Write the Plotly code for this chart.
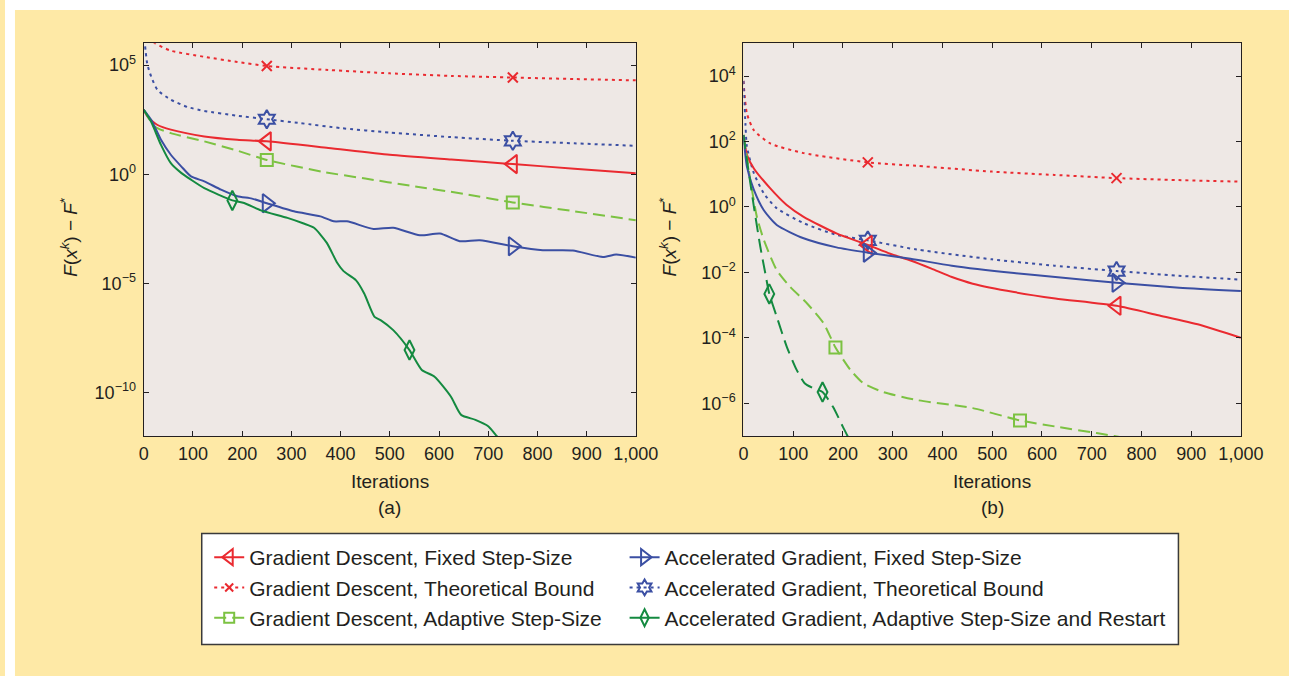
import plotly.graph_objects as go

# ---------------- panel (a) ----------------
a_gd_fixed_k = [0, 8, 28, 55, 123, 190, 250, 375, 500, 625, 750, 875, 1000]
a_gd_fixed_v = [8.9e2, 4.2e2, 1.8e2, 1.1e2, 5.4e1, 3.8e1, 3.2e1, 1.6e1, 7.8, 4.7, 2.9, 1.8, 1.12]

a_gd_bound_k = [5, 21, 55, 123, 190, 250, 375, 500, 625, 750, 875, 1000]
a_gd_bound_v = [4.0e6, 1.1e6, 4.6e5, 2.4e5, 1.4e5, 9.1e4, 6.0e4, 4.2e4, 3.2e4, 2.7e4, 2.3e4, 2.0e4]

a_gd_adapt_k = [0, 22, 55, 123, 190, 250, 366, 450, 541, 650, 750, 875, 1000]
a_gd_adapt_v = [8.9e2, 1.55e2, 7.6e1, 3.2e1, 1.2e1, 4.5, 1.26, 6.3e-1, 3.0e-1, 1.26e-1, 5.1e-2, 2.0e-2, 7.8e-3]

a_agd_fixed_k = [0, 15, 35, 55, 76, 96, 123, 157, 190, 220, 250, 305, 359, 386, 413, 467,
                 507, 561, 602, 642, 683, 750, 811, 872, 933, 960, 1000]
a_agd_fixed_v = [8.9e2, 3.1e2, 3.8e1, 7.8, 2.3, 7.9e-1, 4.7e-1, 1.95e-1, 9.8e-2, 7.6e-2, 4.7e-2,
                 2.0e-2, 1.17e-2, 6.9e-3, 6.9e-3, 3.1e-3, 3.5e-3, 1.58e-3, 1.9e-3, 8.5e-4,
                 9.3e-4, 5.0e-4, 3.3e-4, 3.2e-4, 1.6e-4, 2.1e-4, 1.5e-4]

a_agd_bound_k = [0, 7, 15, 28, 55, 89, 123, 190, 250, 318, 400, 500, 625, 750, 875, 1000]
a_agd_bound_v = [3.2e6, 1.2e5, 3.0e4, 7.2e3, 2.6e3, 1.2e3, 7.9e2, 4.8e2, 3.3e2, 2.2e2, 1.3e2,
                 8.1e1, 5.0e1, 3.4e1, 2.6e1, 2.0e1]

a_agd_restart_k = [0, 15, 35, 55, 76, 96, 123, 180, 204, 238, 292, 325, 346, 372, 393, 406,
                   431, 448, 469, 482, 507, 540, 565, 591, 624, 645, 674, 700, 716, 735]
a_agd_restart_v = [8.9e2, 2.5e2, 2.2e1, 3.2, 1.15, 5.6e-1, 2.3e-1, 6.3e-2, 4.8e-2, 2.2e-2,
                   1.0e-2, 5.5e-3, 3.5e-3, 7.1e-4, 8.7e-5, 3.6e-5, 1.4e-5, 3.4e-6, 2.9e-7,
                   2.0e-7, 7.1e-8, 8.7e-9, 1.07e-9, 5.2e-10, 6.5e-11, 9.3e-12, 5.5e-12,
                   2.8e-12, 1.07e-12, 4.0e-13]

# ---------------- panel (b) ----------------
b_gd_fixed_k = [0, 7, 21, 54, 87, 121, 187, 250, 295, 336, 378, 419, 461, 544, 627, 750, 834, 917, 1000]
b_gd_fixed_v = [1.58e2, 3.9e1, 1.5e1, 3.7, 1.15, 5.0e-1, 1.55e-1, 6.9e-2, 3.7e-2, 2.3e-2, 1.3e-2,
                7.2e-3, 4.5e-3, 2.5e-3, 1.6e-3, 9.5e-4, 4.9e-4, 2.5e-4, 1.0e-4]

b_gd_bound_k = [0, 7, 21, 54, 121, 250, 348, 500, 625, 750, 875, 1000]
b_gd_bound_v = [7.1e3, 7.2e2, 2.2e2, 8.7e1, 4.4e1, 2.3e1, 1.8e1, 1.2e1, 9.5, 7.6, 6.6, 5.9]

b_gd_adapt_k = [0, 14, 27, 41, 67, 94, 128, 161, 185, 215, 241, 281, 348, 461, 556, 627, 710, 745, 800]
b_gd_adapt_v = [1.58e2, 6.6, 5.0e-1, 9.8e-2, 1.17e-2, 3.6e-3, 1.12e-3, 2.8e-4, 5.1e-5, 1.05e-5,
                4.1e-6, 2.2e-6, 1.26e-6, 7.1e-7, 3.0e-7, 1.95e-7, 1.23e-7, 1.0e-7, 7.1e-8]

b_agd_fixed_k = [0, 7, 21, 41, 67, 121, 187, 250, 336, 419, 544, 627, 750, 876, 1000]
b_agd_fixed_v = [1.58e2, 1.7e1, 3.3, 7.9e-1, 2.8e-1, 1.1e-1, 5.8e-2, 4.0e-2, 2.6e-2, 1.6e-2,
                 9.5e-3, 7.2e-3, 4.8e-3, 3.4e-3, 2.7e-3]

b_agd_bound_k = [0, 4, 7, 21, 41, 67, 121, 187, 250, 348, 500, 625, 750, 875, 1000]
b_agd_bound_v = [7.1e3, 3.5e2, 6.9e1, 1.07e1, 2.6, 9.1e-1, 3.2e-1, 1.4e-1, 9.5e-2, 5.0e-2,
                 2.5e-2, 1.6e-2, 1.1e-2, 7.9e-3, 6.0e-3]

b_agd_restart_k = [0, 11, 21, 34, 44, 52, 67, 87, 107, 123, 140, 159, 180, 200, 210, 220]
b_agd_restart_v = [1.58e2, 1.07e1, 1.02, 6.0e-2, 9.3e-3, 2.2e-3, 4.4e-4, 5.4e-5, 1.05e-5,
                   4.1e-6, 2.9e-6, 2.2e-6, 7.8e-7, 1.9e-7, 9.5e-8, 4.0e-8]

# iterations at which each curve carries a marker
marks_a = {"gd_fixed": [250, 750], "gd_bound": [250, 750], "gd_adapt": [250, 750],
           "agd_fixed": [250, 750], "agd_bound": [250, 750], "agd_restart": [180, 540]}
marks_b = {"gd_fixed": [250, 750], "gd_bound": [250, 750], "gd_adapt": [185, 556],
           "agd_fixed": [250, 750], "agd_bound": [250, 750], "agd_restart": [52, 159]}

x_ticks = [0, 100, 200, 300, 400, 500, 600, 700, 800, 900, 1000]
x_ticktext = ["0", "100", "200", "300", "400", "500", "600", "700", "800", "900", "1,000"]
ya_ticks = [1e-10, 1e-5, 1, 1e5]
ya_ticktext = ["10<sup>−10</sup>", "10<sup>−5</sup>", "10<sup>0</sup>", "10<sup>5</sup>"]
yb_ticks = [1e-6, 1e-4, 1e-2, 1, 1e2, 1e4]
yb_ticktext = ["10<sup>−6</sup>", "10<sup>−4</sup>", "10<sup>−2</sup>", "10<sup>0</sup>",
               "10<sup>2</sup>", "10<sup>4</sup>"]

RED = "#ea2a30"
BLUE = "#3b4fa3"
LGREEN = "#7cc242"
DGREEN = "#148a40"
YELLOW = "#fee9a6"
DOTS = "3px,4px"
DASHES = "12px,6px"

styles = {
    "gd_fixed": dict(name="Gradient Descent, Fixed Step-Size", color=RED, dash="solid",
                     symbol="triangle-left-open", size=16),
    "gd_bound": dict(name="Gradient Descent, Theoretical Bound", color=RED, dash=DOTS,
                     symbol="x-thin-open", size=10),
    "gd_adapt": dict(name="Gradient Descent, Adaptive Step-Size", color=LGREEN, dash=DASHES,
                     symbol="square-open", size=12),
    "agd_fixed": dict(name="Accelerated Gradient, Fixed Step-Size", color=BLUE, dash="solid",
                      symbol="triangle-right-open", size=16),
    "agd_bound": dict(name="Accelerated Gradient, Theoretical Bound", color=BLUE, dash=DOTS,
                      symbol="hexagram-open", size=14),
    "agd_restart": dict(name="Accelerated Gradient, Adaptive Step-Size and Restart",
                        color=DGREEN, dash="solid", symbol="diamond-tall-open", size=14),
}

series_a = {"gd_bound": (a_gd_bound_k, a_gd_bound_v), "agd_bound": (a_agd_bound_k, a_agd_bound_v),
            "gd_fixed": (a_gd_fixed_k, a_gd_fixed_v), "gd_adapt": (a_gd_adapt_k, a_gd_adapt_v),
            "agd_fixed": (a_agd_fixed_k, a_agd_fixed_v),
            "agd_restart": (a_agd_restart_k, a_agd_restart_v)}
series_b = {"gd_bound": (b_gd_bound_k, b_gd_bound_v), "agd_bound": (b_agd_bound_k, b_agd_bound_v),
            "gd_fixed": (b_gd_fixed_k, b_gd_fixed_v), "gd_adapt": (b_gd_adapt_k, b_gd_adapt_v),
            "agd_fixed": (b_agd_fixed_k, b_agd_fixed_v),
            "agd_restart": (b_agd_restart_k, b_agd_restart_v)}

fig = go.Figure()


def add_panel(series, marks, xref, yref, dash_override=None):
    dash_override = dash_override or {}
    for key, (ks, vs) in series.items():
        st = styles[key]
        dash = dash_override.get(key, st["dash"])
        fig.add_trace(go.Scatter(
            x=ks, y=vs, mode="lines", xaxis=xref, yaxis=yref, showlegend=False,
            line=dict(color=st["color"], width=2, dash=dash, shape="spline", smoothing=0.6),
            hoverinfo="skip"))
        mk = marks[key]
        mx = [k for k in ks if k in mk]
        my = [v for k, v in zip(ks, vs) if k in mk]
        fig.add_trace(go.Scatter(
            x=mx, y=my, mode="markers", xaxis=xref, yaxis=yref, showlegend=False,
            marker=dict(symbol=st["symbol"], size=st["size"], color=st["color"],
                        line=dict(color=st["color"], width=2)),
            hoverinfo="skip"))


add_panel(series_a, marks_a, "x", "y")
add_panel(series_b, marks_b, "x2", "y2", dash_override={"agd_restart": "14px,7px"})

# legend entries, two columns
for key, leg in [("gd_fixed", "legend"), ("gd_bound", "legend"), ("gd_adapt", "legend"),
                 ("agd_fixed", "legend2"), ("agd_bound", "legend2"), ("agd_restart", "legend2")]:
    st = styles[key]
    fig.add_trace(go.Scatter(
        x=[None], y=[None], mode="lines+markers", name=st["name"], legend=leg,
        line=dict(color=st["color"], width=2, dash=st["dash"]),
        marker=dict(symbol=st["symbol"], size=st["size"] - 2, color=st["color"],
                    line=dict(color=st["color"], width=2))))

# positions below are laid out on a 1289 x 676 grid; the figure itself is
# declared slightly wider so that it fills the whole window once displayed
W, H = 1289, 676
FIG_W = 1312
FONT = "Liberation Sans, Arial, Helvetica, sans-serif"
TXT = "#231f20"


def px_x(p):
    return p / W


def px_y(p):
    return 1 - p / H


axis_common = dict(showline=True, linecolor="#231f20", linewidth=1.3, mirror="ticks",
                   ticks="inside", ticklen=5, tickwidth=1.2, tickcolor="#231f20",
                   showgrid=False, zeroline=False,
                   tickfont=dict(family=FONT, size=18, color=TXT))

fig.update_layout(
    width=FIG_W, height=H, autosize=False, margin=dict(l=0, r=0, t=0, b=0),
    paper_bgcolor=YELLOW, plot_bgcolor="#eee8e5",
    font=dict(family=FONT, color=TXT),
    xaxis=dict(domain=[px_x(139.3), px_x(633.3)], range=[0, 1000], tickvals=x_ticks,
               ticktext=x_ticktext, ticklabelstandoff=1, **axis_common),
    xaxis2=dict(domain=[px_x(741.3), px_x(1240.7)], range=[0, 1000], tickvals=x_ticks,
                ticktext=x_ticktext, ticklabelstandoff=1, anchor="y2", **axis_common),
    yaxis=dict(domain=[px_y(436), px_y(43.3)], type="log", range=[-12, 6], tickvals=ya_ticks,
               ticktext=ya_ticktext, ticklabelstandoff=3, **axis_common),
    yaxis2=dict(domain=[px_y(436), px_y(43.3)], type="log", range=[-7, 5], tickvals=yb_ticks,
                ticktext=yb_ticktext, ticklabelstandoff=3, anchor="x2", **axis_common),
    legend=dict(x=px_x(205), y=px_y(537), xanchor="left", yanchor="top",
                bgcolor="rgba(0,0,0,0)", borderwidth=0, tracegroupgap=0,
                font=dict(family=FONT, size=21, color=TXT), itemsizing="trace"),
    legend2=dict(x=px_x(622), y=px_y(537), xanchor="left", yanchor="top",
                 bgcolor="rgba(0,0,0,0)", borderwidth=0, tracegroupgap=0,
                 font=dict(family=FONT, size=21, color=TXT), itemsizing="trace"),
    showlegend=True,
)

# white page edge at top and left, legend frame
fig.add_shape(type="rect", xref="paper", yref="paper", x0=0, x1=1, y0=px_y(10), y1=1,
              fillcolor="white", line_width=0, layer="below")
fig.add_shape(type="rect", xref="paper", yref="paper", x0=0, x1=px_x(10), y0=0, y1=1,
              fillcolor="white", line_width=0, layer="below")
fig.add_shape(type="rect", xref="paper", yref="paper", x0=px_x(197.5), x1=px_x(1178),
              y0=px_y(644.5), y1=px_y(533.5), fillcolor="white",
              line=dict(color="#3a3a3a", width=1.5), layer="below")

ylabel = "<i>F</i>(<i>x</i><sup><i>k</i></sup>) − <i>F</i><sup>*</sup>"
for xc, xmid, tag in [(64, 386.3, "(a)"), (666, 991, "(b)")]:
    fig.add_annotation(x=px_x(xc), y=px_y(237), xref="paper", yref="paper", text=ylabel,
                       textangle=-90, showarrow=False, xanchor="center", yanchor="middle",
                       font=dict(family=FONT, size=19, color=TXT))
    fig.add_annotation(x=px_x(xmid), y=px_y(481), xref="paper", yref="paper", text="Iterations",
                       showarrow=False, xanchor="center", yanchor="middle",
                       font=dict(family=FONT, size=19, color=TXT))
    fig.add_annotation(x=px_x(xmid), y=px_y(508), xref="paper", yref="paper", text=tag,
                       showarrow=False, xanchor="center", yanchor="middle",
                       font=dict(family=FONT, size=19, color=TXT))

# page background: white top strip, yellow elsewhere, no margins or scrollbars
page_setup = (
    "document.documentElement.style.overflow='hidden';"
    "document.body.style.margin='0';document.body.style.overflow='hidden';"
    "document.body.style.background="
    "'linear-gradient(to bottom, #ffffff 0px, #ffffff 10px, %s 10px)';" % YELLOW
)

fig.write_html("out.html", config={"responsive": False}, post_script=page_setup)
